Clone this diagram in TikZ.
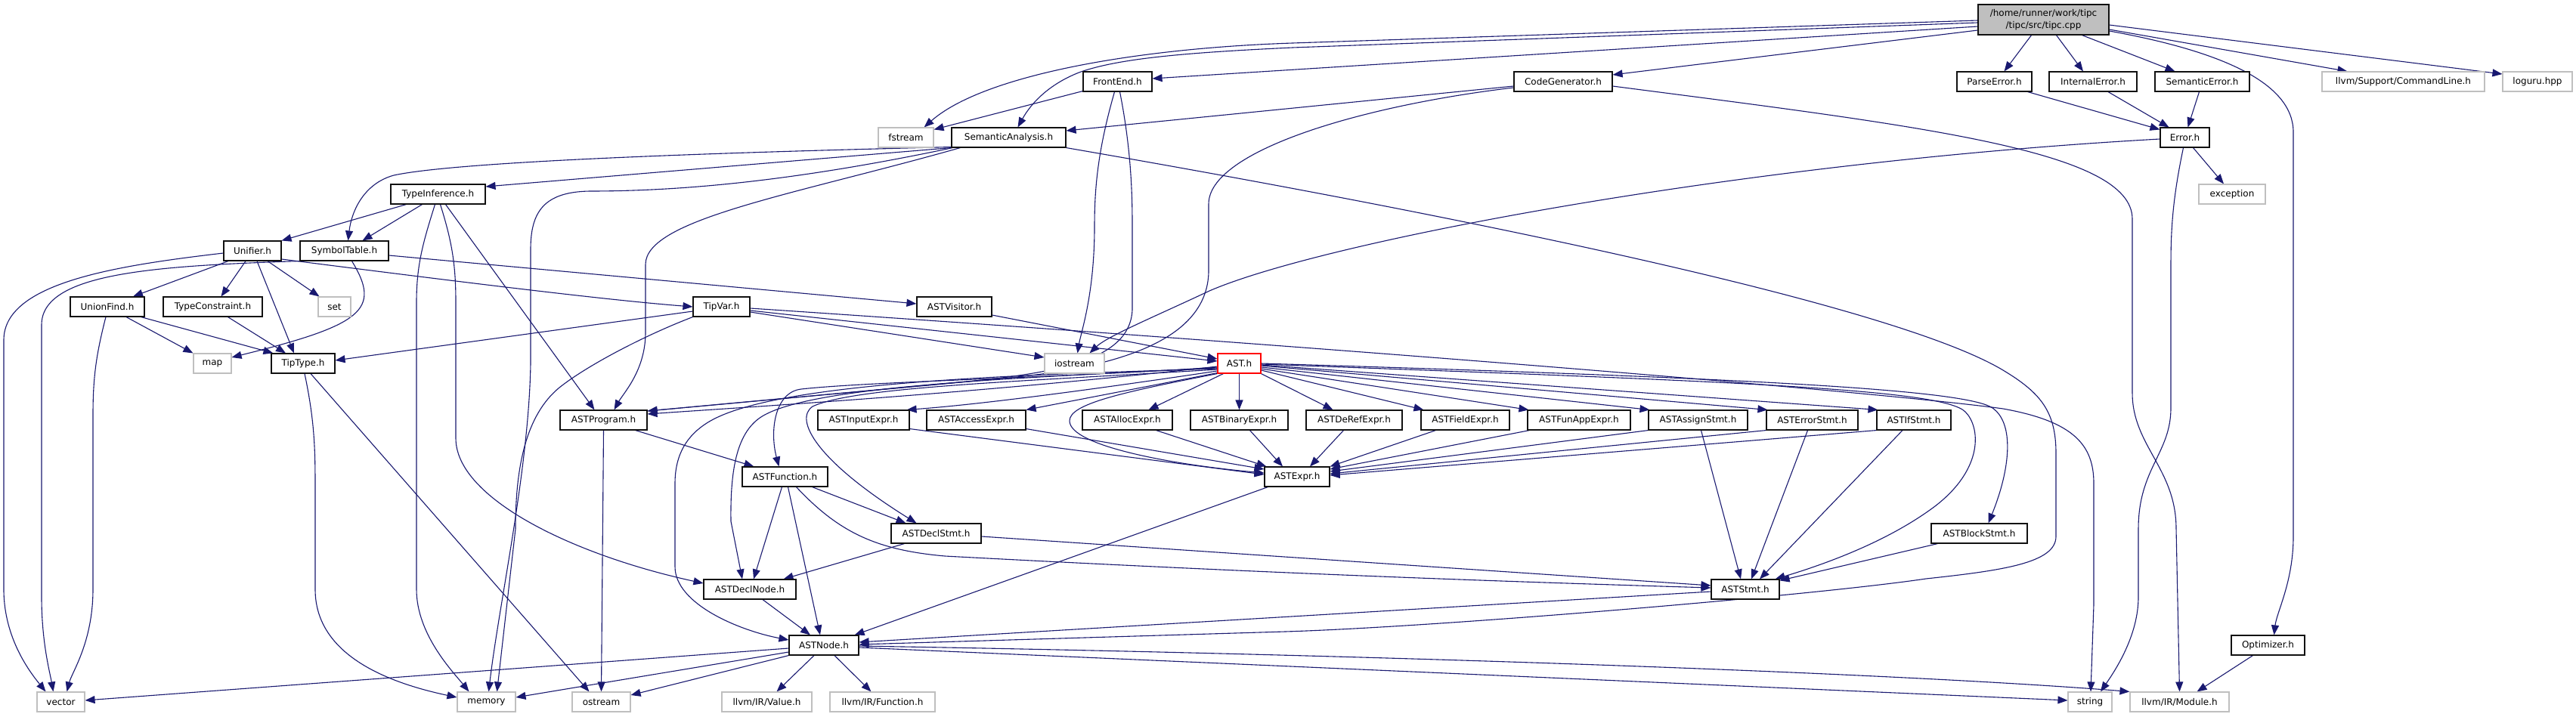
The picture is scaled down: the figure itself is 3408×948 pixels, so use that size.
\documentclass[tikz,border=0pt]{standalone}
\usepackage{fontspec}
\setmainfont{DejaVu Sans}
\usetikzlibrary{arrows.meta}
\definecolor{edgec}{HTML}{191970}
\definecolor{extc}{HTML}{BFBFBF}
\definecolor{mainfill}{HTML}{BFBFBF}
\definecolor{nodeb}{HTML}{111111}
\pgfdeclarelayer{bg}
\pgfsetlayers{bg,main}
\tikzset{
  hdr/.style={draw=nodeb, line width=1.1pt, fill=white, minimum height=26pt, inner sep=0pt, font=\fontsize{12}{14}\selectfont},
  sys/.style={hdr, draw=extc},
  dep/.style={draw=edgec, line width=1.1pt, -{Triangle[length=13pt,width=10pt]}},
}
\begin{document}
\begin{tikzpicture}[x=1pt,y=-1pt]
\useasboundingbox (0,0) rectangle (3408,948);
% nodes
\node[hdr, fill=mainfill, minimum width=173pt, minimum height=40pt, align=center, font=\fontsize{12}{16}\selectfont] (tipc) at (2703.5,26) {/home/runner/work/tipc\\/tipc/src/tipc.cpp};
\node[hdr, minimum width=91pt]  (front)    at (1478.5,108) {FrontEnd.h};
\node[hdr, minimum width=130pt] (codegen)  at (2068,108) {CodeGenerator.h};
\node[hdr, minimum width=99pt]  (parseerr) at (2638.5,108) {ParseError.h};
\node[hdr, minimum width=116pt] (interr)   at (2769,108) {InternalError.h};
\node[hdr, minimum width=125pt] (semerr)   at (2913.5,108) {SemanticError.h};
\node[sys, minimum width=215pt] (cmdline)  at (3179.5,108) {llvm/Support/CommandLine.h};
\node[sys, minimum width=92pt]  (loguru)   at (3357,108) {loguru.hpp};
\node[sys, minimum width=73pt]  (fstream)  at (1198.5,182) {fstream};
\node[hdr, minimum width=151pt] (sema)     at (1334.5,182) {SemanticAnalysis.h};
\node[hdr, minimum width=65pt]  (error)    at (2890.5,182) {Error.h};
\node[hdr, minimum width=125pt] (typeinf)  at (579.5,257) {TypeInference.h};
\node[sys, minimum width=88pt]  (exception) at (2953,257) {exception};
\node[hdr, minimum width=76pt]  (unifier)  at (334,332) {Unifier.h};
\node[hdr, minimum width=117pt] (symtab)   at (455.5,332) {SymbolTable.h};
\node[hdr, minimum width=98pt]  (unionfind) at (142,406) {UnionFind.h};
\node[hdr, minimum width=131pt] (typecons) at (281.5,406) {TypeConstraint.h};
\node[sys, minimum width=43pt]  (set)      at (442.5,406) {set};
\node[hdr, minimum width=75pt]  (tipvar)   at (954.5,406) {TipVar.h};
\node[hdr, minimum width=99pt]  (visitor)  at (1262.5,406) {ASTVisitor.h};
\node[sys, minimum width=50pt]  (map)      at (281,481) {map};
\node[hdr, minimum width=84pt]  (tiptype)  at (401,481) {TipType.h};
\node[sys, minimum width=79pt]  (iostream) at (1421.5,481) {iostream};
\node[hdr, draw=red, minimum width=57pt] (ast) at (1639.5,481) {AST.h};
\node[hdr, minimum width=115pt] (program)  at (798.5,556) {ASTProgram.h};
\node[hdr, minimum width=121pt] (input)    at (1142.5,556) {ASTInputExpr.h};
\node[hdr, minimum width=131pt] (access)   at (1291.5,556) {ASTAccessExpr.h};
\node[hdr, minimum width=119pt] (alloc)    at (1491.5,556) {ASTAllocExpr.h};
\node[hdr, minimum width=129pt] (binary)   at (1639.5,556) {ASTBinaryExpr.h};
\node[hdr, minimum width=127pt] (deref)    at (1791.5,556) {ASTDeRefExpr.h};
\node[hdr, minimum width=117pt] (field)    at (1938.5,556) {ASTFieldExpr.h};
\node[hdr, minimum width=136pt] (funapp)   at (2089,556) {ASTFunAppExpr.h};
\node[hdr, minimum width=131pt] (assign)   at (2246.5,556) {ASTAssignStmt.h};
\node[hdr, minimum width=121pt] (errstmt)  at (2397.5,556) {ASTErrorStmt.h};
\node[hdr, minimum width=98pt]  (ifstmt)   at (2532,556) {ASTIfStmt.h};
\node[hdr, minimum width=113pt] (function) at (1038.5,631) {ASTFunction.h};
\node[hdr, minimum width=86pt]  (expr)     at (1716,631) {ASTExpr.h};
\node[hdr, minimum width=119pt] (declstmt) at (1238.5,706) {ASTDeclStmt.h};
\node[hdr, minimum width=127pt] (block)    at (2618.5,706) {ASTBlockStmt.h};
\node[hdr, minimum width=122pt] (declnode) at (992,780) {ASTDeclNode.h};
\node[hdr, minimum width=90pt]  (stmt)     at (2309,780) {ASTStmt.h};
\node[hdr, minimum width=92pt]  (astnode)  at (1090,854) {ASTNode.h};
\node[hdr, minimum width=97pt]  (optimizer) at (3000.5,854) {Optimizer.h};
\node[sys, minimum width=63pt]  (vector)   at (80.5,929) {vector};
\node[sys, minimum width=77pt]  (memory)   at (643.5,929) {memory};
\node[sys, minimum width=77pt]  (ostream)  at (795.5,929) {ostream};
\node[sys, minimum width=119pt] (value)    at (1014.5,929) {llvm/IR/Value.h};
\node[sys, minimum width=139pt] (irfunc)   at (1167.5,929) {llvm/IR/Function.h};
\node[sys, minimum width=58pt]  (string)   at (2765,929) {string};
\node[sys, minimum width=131pt] (module)   at (2883.5,929) {llvm/IR/Module.h};
\begin{pgfonlayer}{bg}
\fill[white] (0,0) rectangle (3408,948);
% tipc
\draw[dep] ([yshift=-9pt]tipc.west) -- ([yshift=4pt]front.east);
\draw[dep] ([yshift=-14pt]tipc.west) -- ([yshift=9pt]codegen.east);
\draw[dep] ([yshift=-4pt]tipc.west) -- (1710,63) .. controls (1560,70) and (1480,78) .. (1430,95) .. controls (1390,110) and (1365,135) .. ([xshift=12pt]sema.north);
\draw[dep] ([yshift=-1pt]tipc.west) -- (1710,57) .. controls (1500,64) and (1300,100) .. ([xshift=24pt]fstream.north);
\draw[dep] ([xshift=-16pt]tipc.south) -- ([xshift=13pt]parseerr.north);
\draw[dep] ([xshift=17pt]tipc.south) -- ([xshift=-13pt]interr.north);
\draw[dep] ([xshift=51pt]tipc.south) -- ([xshift=-36pt]semerr.north);
\draw[dep] ([yshift=-13pt]tipc.east) -- ([xshift=-74pt]cmdline.north);
\draw[dep] ([yshift=-7pt]tipc.east) -- ([yshift=10pt]loguru.west);
\draw[dep] ([yshift=-15pt]tipc.east) .. controls (2940,68) and (3034,110) .. (3034,175) -- (3034,710) .. controls (3034,770) and (3012,810) .. ([xshift=8pt]optimizer.north);
% FrontEnd
\draw[dep] ([yshift=1pt]front.south west) -- ([yshift=-3pt]fstream.north east);
\draw[dep] ([xshift=-4pt]front.south) .. controls (1452,200) and (1448,250) .. (1448,300) .. controls (1448,390) and (1430,440) .. ([xshift=4pt]iostream.north);
\draw[dep] ([xshift=3pt]front.south) .. controls (1497,200) and (1498,260) .. (1498,300) -- (1498,410) .. controls (1495,480) and (1390,495) .. (1250,508) -- ([yshift=12pt]program.east);
% CodeGenerator
\draw[dep] ([yshift=-6pt]codegen.west) -- ([yshift=9pt]sema.east);
\draw[dep] ([yshift=-8pt]codegen.west) .. controls (1800,140) and (1599,200) .. (1599,270) -- (1599,360) .. controls (1597,450) and (1480,490) .. (1300,503) -- ([yshift=12pt]program.east);
\draw[dep] ([yshift=-6pt]codegen.east) .. controls (2550,168) and (2821,200) .. (2821,290) -- (2821,520) .. controls (2821,590) and (2879,620) .. (2879,700) -- (module.north);
% SemanticAnalysis
\draw[dep] (sema.south west) -- ([yshift=10pt]typeinf.east);
\draw[dep] ([yshift=1pt]sema.south west) .. controls (900,203) and (600,215) .. (521,232) .. controls (481,243) and (465,280) .. ([xshift=5pt]symtab.north);
\draw[dep] ([xshift=2pt]sema.south west) .. controls (1050,240) and (900,253) .. (780,253) .. controls (720,254) and (702,280) .. (702,330) -- (702,480) .. controls (700,620) and (660,800) .. ([xshift=3pt]memory.north);
\draw[dep] ([xshift=12pt]sema.south west) .. controls (1050,258) and (854,290) .. (854,350) -- (854,440) .. controls (854,490) and (825,520) .. ([xshift=14pt]program.north);
\draw[dep] (sema.south east) .. controls (1900,280) and (2500,400) .. (2650,490) .. controls (2700,520) and (2720,545) .. (2720,600) -- (2720,710) .. controls (2720,745) and (2650,755) .. (2548,766) .. controls (2400,788) and (1900,830) .. (1700,836) -- ([yshift=1pt]astnode.east);
% TypeInference
\draw[dep] ([xshift=-42pt]typeinf.south) -- (unifier.north east);
\draw[dep] ([xshift=-21pt]typeinf.south) -- ([xshift=24pt]symtab.north);
\draw[dep] ([xshift=-4pt]typeinf.south) .. controls (560,320) and (551,350) .. (551,400) -- (551,780) .. controls (551,840) and (600,890) .. ([xshift=-23pt]memory.north);
\draw[dep] ([xshift=3pt]typeinf.south) .. controls (598,320) and (603,350) .. (603,400) -- (603,580) .. controls (603,660) and (760,735) .. ([yshift=8pt]declnode.west);
\draw[dep] ([xshift=10pt]typeinf.south) -- ([xshift=-12pt]program.north);
% Unifier
\draw[dep] ([xshift=-32pt]unifier.south) -- ([xshift=34pt]unionfind.north);
\draw[dep] ([xshift=-9pt]unifier.south) -- ([xshift=11pt]typecons.north);
\draw[dep] ([xshift=20pt]unifier.south) -- ([xshift=-20pt]set.north);
\draw[dep] ([xshift=6pt]unifier.south) -- ([xshift=-12pt]tiptype.north);
\draw[dep] ([yshift=-3pt]unifier.west) .. controls (150,352) and (5,375) .. (5,450) -- (5,780) .. controls (5,845) and (40,890) .. ([xshift=-20pt]vector.north);
\draw[dep] ([yshift=-11pt]unifier.east) .. controls (600,372) and (800,397) .. (tipvar.west);
% SymbolTable
\draw[dep] ([xshift=10pt]symtab.south) .. controls (505,410) and (480,430) .. ([yshift=8pt]map.east);
\draw[dep] (symtab.south west) .. controls (200,352) and (55,362) .. (55,430) -- (55,790) .. controls (55,850) and (66,890) .. ([xshift=-10pt]vector.north);
\draw[dep] ([yshift=-6pt]symtab.east) -- ([yshift=4pt]visitor.west);
% UnionFind, TypeConstraint
\draw[dep] ([xshift=-2pt]unionfind.south) .. controls (127,470) and (123,500) .. (123,550) -- (123,780) .. controls (123,850) and (95,890) .. ([xshift=8pt]vector.north);
\draw[dep] ([xshift=25pt]unionfind.south) -- (map.north west);
\draw[dep] ([xshift=-5pt]unionfind.south east) -- ([xshift=3pt]tiptype.north west);
\draw[dep] ([xshift=20pt]typecons.south) -- ([xshift=-23pt]tiptype.north);
% TipType
\draw[dep] ([xshift=2pt]tiptype.south) .. controls (417,560) and (417,600) .. (417,650) -- (417,780) .. controls (417,870) and (520,905) .. ([yshift=6pt]memory.west);
\draw[dep] ([xshift=10pt]tiptype.south) -- ([xshift=-16pt]ostream.north);
% TipVar
\draw[dep] ([yshift=-6pt]tipvar.west) -- ([yshift=4pt]tiptype.east);
\draw[dep] (tipvar.south west) .. controls (850,445) and (775,485) .. (740,513) .. controls (695,550) and (682,620) .. (682,700) -- ([xshift=14pt]memory.north);
\draw[dep] ([yshift=-7pt]tipvar.east) -- ([yshift=8pt]iostream.west);
\draw[dep] ([yshift=-5pt]tipvar.east) -- ([yshift=3pt]ast.west);
\draw[dep] ([yshift=-2pt]tipvar.east) .. controls (1800,462) and (2500,520) .. (2650,541) .. controls (2745,558) and (2770,590) .. (2770,640) -- (2770,800) -- ([xshift=1pt]string.north);
\draw[dep] ([yshift=-11pt]visitor.east) -- ([yshift=6pt]ast.west);
% Error
\draw[dep] ([yshift=-2pt]error.west) .. controls (2300,215) and (1750,320) .. (1600,385) .. controls (1530,418) and (1465,445) .. ([xshift=20pt]iostream.north);
\draw[dep] ([xshift=-2pt]error.south) .. controls (2875,260) and (2872,300) .. (2872,350) -- (2872,540) .. controls (2872,600) and (2829,620) .. (2829,700) -- (2829,790) .. controls (2829,840) and (2800,885) .. ([xshift=14pt]string.north);
\draw[dep] ([xshift=11pt]error.south) -- ([xshift=-11pt]exception.north);
\draw[dep] ([xshift=-6pt]parseerr.south east) -- ([yshift=-3pt]error.north west);
\draw[dep] ([xshift=20pt]interr.south) -- ([xshift=-21pt]error.north);
\draw[dep] ([xshift=-4pt]semerr.south) -- ([xshift=4pt]error.north);
% AST.h
\draw[dep] ([yshift=-4pt]ast.west) .. controls (1300,520) and (1000,538) .. ([yshift=8pt]program.east);
\draw[dep] ([yshift=-5pt]ast.west) .. controls (1400,500) and (1150,505) .. (1060,515) .. controls (1025,519) and (1018,570) .. ([xshift=-8pt]function.north);
\draw[dep] ([yshift=-6pt]ast.west) .. controls (1350,500) and (1080,510) .. (1010,550) .. controls (975,570) and (966,620) .. (967,690) -- ([xshift=-10pt]declnode.north);
\draw[dep] ([yshift=-7pt]ast.west) .. controls (1350,496) and (1020,505) .. (935,560) .. controls (910,576) and (893,600) .. (893,640) -- (893,750) .. controls (893,800) and (980,835) .. ([yshift=7pt]astnode.west);
\draw[dep] ([yshift=-8pt]ast.west) .. controls (1350,505) and (1130,512) .. (1075,538) .. controls (1050,555) and (1080,610) .. ([xshift=-26pt]declstmt.north);
\draw[dep] ([yshift=-10pt]ast.west) .. controls (1450,515) and (1300,535) .. ([xshift=-4pt]input.north east);
\draw[dep] ([yshift=1pt]ast.south west) -- (access.north east);
\draw[dep] ([xshift=8pt]ast.south west) -- ([xshift=28pt]alloc.north);
\draw[dep] (ast.south) -- (binary.north);
\draw[dep] (ast.south east) -- ([xshift=-28pt]deref.north);
\draw[dep] ([yshift=-9pt]ast.east) -- ([xshift=4pt]field.north west);
\draw[dep] ([yshift=-7pt]ast.east) -- ([xshift=2pt]funapp.north west);
\draw[dep] ([yshift=-5pt]ast.east) -- ([xshift=2pt]assign.north west);
\draw[dep] ([yshift=-3pt]ast.east) -- ([xshift=2pt]errstmt.north west);
\draw[dep] ([yshift=-2pt]ast.east) -- ([xshift=2pt]ifstmt.north west);
\draw[dep] (ast.south west) .. controls (1480,520) and (1415,535) .. (1415,557) .. controls (1415,590) and (1550,615) .. ([yshift=5pt]expr.west);
\draw[dep] ([yshift=-1pt]ast.east) .. controls (2300,505) and (2570,515) .. (2600,545) .. controls (2620,565) and (2625,620) .. (2560,670) .. controls (2500,715) and (2420,745) .. ([xshift=-6pt]stmt.north east);
\draw[dep] (ast.east) .. controls (2300,500) and (2600,515) .. (2636,540) .. controls (2665,560) and (2660,620) .. ([xshift=12pt]block.north);
% ASTProgram, ASTFunction
\draw[dep] (program.south) -- (ostream.north);
\draw[dep] ([xshift=-16pt]program.south east) -- ([xshift=16pt]function.north west);
\draw[dep] ([xshift=-4pt]function.south) -- ([xshift=5pt]declnode.north);
\draw[dep] ([xshift=4pt]function.south) -- ([xshift=-5pt]astnode.north);
\draw[dep] ([xshift=36pt]function.south) -- ([xshift=-40pt]declstmt.north);
\draw[dep] ([xshift=15pt]function.south) .. controls (1110,705) and (1160,728) .. (1250,736) .. controls (1700,760) and (2000,770) .. ([yshift=2pt]stmt.west);
% ASTDeclStmt, ASTDeclNode, ASTExpr
\draw[dep] ([xshift=-42pt]declstmt.south) -- ([xshift=-17pt]declnode.north east);
\draw[dep] ([yshift=-4pt]declstmt.east) -- ([yshift=5pt]stmt.west);
\draw[dep] ([xshift=17pt]declnode.south) -- ([xshift=-18pt]astnode.north);
\draw[dep] ([xshift=5pt]expr.south west) -- ([xshift=-6pt]astnode.north east);
% expressions and statements
\draw[dep] ([yshift=2pt]input.south east) -- ([yshift=3pt]expr.west);
\draw[dep] ([yshift=2pt]access.south east) -- ([yshift=10pt]expr.west);
\draw[dep] ([xshift=38pt]alloc.south) -- ([xshift=3pt]expr.north west);
\draw[dep] ([xshift=14pt]binary.south) -- ([xshift=-19pt]expr.north);
\draw[dep] ([xshift=-14pt]deref.south) -- ([xshift=17pt]expr.north);
\draw[dep] ([xshift=-39pt]field.south) -- (expr.north east);
\draw[dep] ([xshift=3pt]funapp.south west) -- ([yshift=10pt]expr.east);
\draw[dep] (assign.south west) -- ([yshift=7pt]expr.east);
\draw[dep] (errstmt.south west) -- ([yshift=4pt]expr.east);
\draw[dep] (ifstmt.south west) -- ([yshift=2pt]expr.east);
\draw[dep] ([xshift=4pt]assign.south) -- ([xshift=-6pt]stmt.north);
\draw[dep] ([xshift=-6pt]errstmt.south) -- ([xshift=8pt]stmt.north);
\draw[dep] ([xshift=-15pt]ifstmt.south) -- ([xshift=19pt]stmt.north);
\draw[dep] ([xshift=9pt]block.south west) -- ([yshift=-2pt]stmt.north east);
\draw[dep] ([yshift=-3pt]stmt.west) -- ([yshift=4pt]astnode.east);
% ASTNode
\draw[dep] ([yshift=-4pt]astnode.west) -- ([yshift=2pt]vector.east);
\draw[dep] ([yshift=-9pt]astnode.west) -- ([yshift=6pt]memory.east);
\draw[dep] (astnode.south west) -- ([yshift=9pt]ostream.east);
\draw[dep] ([xshift=-13pt]astnode.south) -- ([xshift=13pt]value.north);
\draw[dep] ([xshift=14pt]astnode.south) -- ([xshift=-15pt]irfunc.north);
\draw[dep] ([yshift=-3pt]astnode.east) -- ([yshift=2pt]string.west);
\draw[dep] ([yshift=-1pt]astnode.east) .. controls (1800,866) and (2500,890) .. (module.north west);
\draw[dep] ([xshift=-20pt]optimizer.south) -- ([xshift=23pt]module.north);
\end{pgfonlayer}
\end{tikzpicture}
\end{document}
